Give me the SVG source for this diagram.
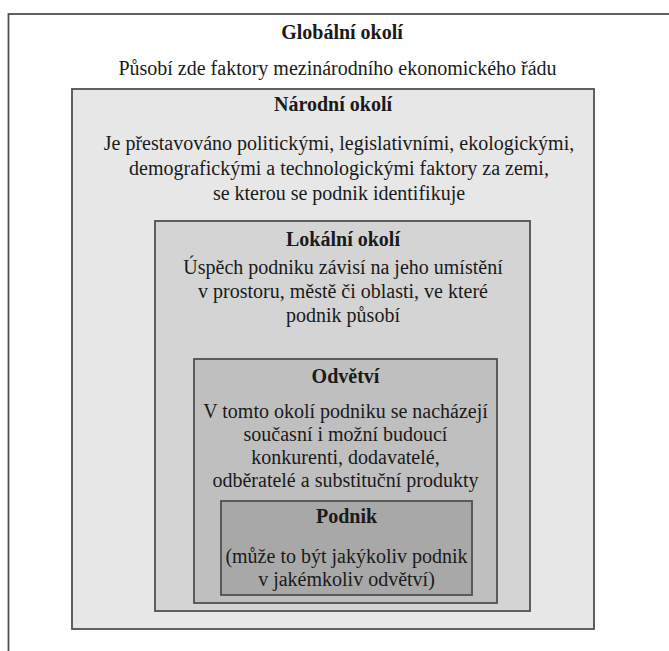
<svg xmlns="http://www.w3.org/2000/svg" width="669" height="651" viewBox="0 0 669 651">
<style>
.box{stroke:#505050;stroke-width:1.8}
.t{font-family:"Liberation Serif","Times New Roman",serif;font-size:20px;fill:#1a1a1a;text-anchor:middle}
.b{font-weight:bold}
</style>
<rect width="669" height="651" fill="#ffffff"/>
<g id="globalni">
<rect class="box" x="8.5" y="14" width="700" height="700" fill="#ffffff"/>
<text class="t b" x="342" y="38.5">Globální okolí</text>
<text class="t" x="337.5" y="74.5">Působí zde faktory mezinárodního ekonomického řádu</text>
</g>
<g id="narodni">
<rect class="box" x="72" y="89" width="522" height="540" fill="#e7e7e7"/>
<text class="t b" x="333" y="111">Národní okolí</text>
<text class="t" x="339" y="149.5">Je přestavováno politickými, legislativními, ekologickými,</text>
<text class="t" x="339" y="174.5">demografickými a technologickými faktory za zemi,</text>
<text class="t" x="339" y="199.5">se kterou se podnik identifikuje</text>
</g>
<g id="lokalni">
<rect class="box" x="155" y="221" width="375" height="390" fill="#d4d4d4"/>
<text class="t b" x="343" y="246">Lokální okolí</text>
<text class="t" x="343" y="274">Úspěch podniku závisí na jeho umístění</text>
<text class="t" x="343" y="298">v prostoru, městě či oblasti, ve které</text>
<text class="t" x="343" y="322">podnik působí</text>
</g>
<g id="odvetvi">
<rect class="box" x="194" y="359" width="303" height="244" fill="#bfbfbf"/>
<text class="t b" x="345.5" y="383">Odvětví</text>
<text class="t" x="345.5" y="418">V tomto okolí podniku se nacházejí</text>
<text class="t" x="345.5" y="441">současní i možní budoucí</text>
<text class="t" x="345.5" y="464">konkurenti, dodavatelé,</text>
<text class="t" x="345.5" y="487">odběratelé a substituční produkty</text>
</g>
<g id="podnik">
<rect class="box" x="221" y="501" width="251" height="94" fill="#a8a8a8"/>
<text class="t b" x="346.5" y="523">Podnik</text>
<text class="t" x="346.5" y="563">(může to být jakýkoliv podnik</text>
<text class="t" x="346.5" y="586">v jakémkoliv odvětví)</text>
</g>
<g id="connectors"/>
</svg>
